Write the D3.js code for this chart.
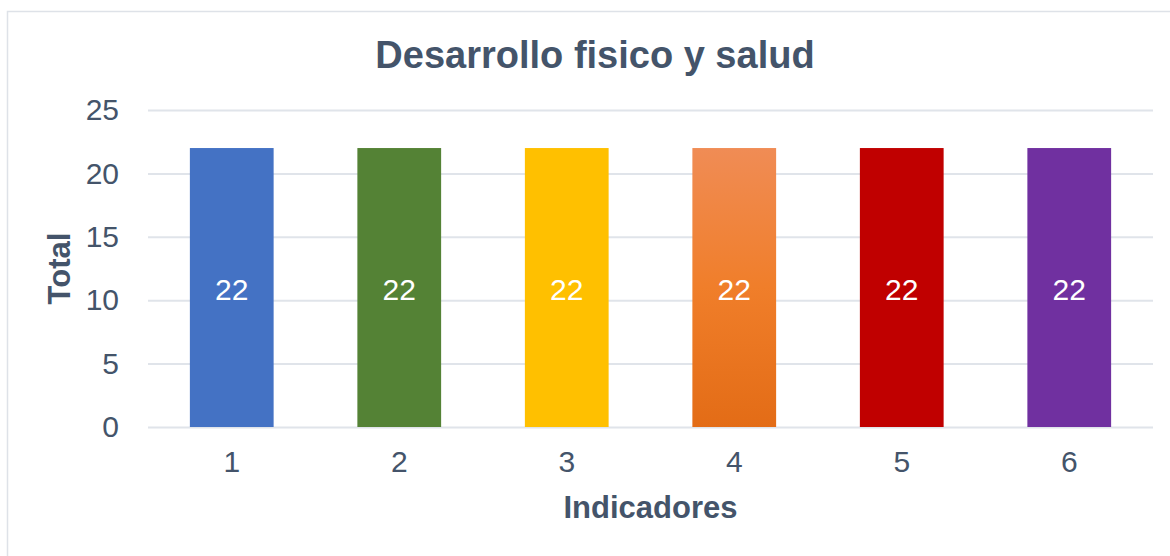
<!DOCTYPE html>
<html>
<head>
<meta charset="utf-8">
<script src="https://cdn.jsdelivr.net/npm/d3@7"></script>
<style>
  body { margin: 0; background: #fff; }
  text { font-family: "Liberation Sans", Arial, sans-serif; }
</style>
</head>
<body>
<div id="chart"></div>
<script>
var indicadores = ["1", "2", "3", "4", "5", "6"];
var totales = [22, 22, 22, 22, 22, 22];
var colores = ["#4472C4", "#548235", "#FFC000", "url(#naranja)", "#C00000", "#7030A0"];
var yTicks = [0, 5, 10, 15, 20, 25];

var width = 1170, height = 556;
var margin = {top: 110, bottom: 129, left: 148, right: 17};
var textColor = "#44546A";

var svg = d3.select("#chart").append("svg")
    .attr("width", width)
    .attr("height", height);

// gradiente de la barra 4
var grad = svg.append("defs").append("linearGradient")
    .attr("id", "naranja")
    .attr("x1", 0).attr("y1", 0).attr("x2", 0).attr("y2", 1);
grad.append("stop").attr("offset", "0%").attr("stop-color", "#F08C55");
grad.append("stop").attr("offset", "50%").attr("stop-color", "#F07E2A");
grad.append("stop").attr("offset", "100%").attr("stop-color", "#E36C16");

// borde del grafico
svg.append("rect")
    .attr("x", 7.5).attr("y", 11.5)
    .attr("width", 1200).attr("height", 600)
    .attr("fill", "#fff")
    .attr("stroke", "#DEE2E8")
    .attr("stroke-width", 1.5);

var x = d3.scaleBand()
    .domain(indicadores)
    .range([margin.left, width - margin.right])
    .paddingInner(0.5)
    .paddingOuter(0.25);

var y = d3.scaleLinear()
    .domain([0, 25])
    .range([height - margin.bottom, margin.top]);

// grid + eje y
var yAxis = d3.axisLeft(y).tickValues(yTicks)
    .tickSize(-(width - margin.left - margin.right))
    .tickPadding(29);
var gy = svg.append("g")
    .attr("transform", "translate(" + margin.left + ",0)")
    .call(yAxis);
gy.select(".domain").remove();
gy.selectAll("line").attr("stroke", "#E0E4EA").attr("stroke-width", 2);
gy.selectAll("text")
    .attr("fill", textColor)
    .style("font-size", "30px");

// barras
svg.append("g").selectAll("rect")
    .data(totales)
    .enter().append("rect")
    .attr("x", function(d, i) { return x(indicadores[i]); })
    .attr("y", function(d) { return y(d); })
    .attr("width", x.bandwidth())
    .attr("height", function(d) { return y(0) - y(d); })
    .attr("fill", function(d, i) { return colores[i]; });

// etiquetas de datos
svg.append("g").selectAll("text")
    .data(totales)
    .enter().append("text")
    .attr("x", function(d, i) { return x(indicadores[i]) + x.bandwidth() / 2; })
    .attr("y", function(d) { return y(d / 2) + 2; })
    .attr("text-anchor", "middle")
    .attr("dominant-baseline", "central")
    .attr("fill", "#fff")
    .style("font-size", "30px")
    .text(function(d) { return d; });

// eje x
var xAxis = d3.axisBottom(x).tickSize(0).tickPadding(24);
var gx = svg.append("g")
    .attr("transform", "translate(0," + y(0) + ")")
    .call(xAxis);
gx.select(".domain").remove();
gx.selectAll("text")
    .attr("fill", textColor)
    .style("font-size", "30px");

// titulo
svg.append("text")
    .attr("x", 595)
    .attr("y", 68)
    .attr("text-anchor", "middle")
    .attr("fill", textColor)
    .style("font-size", "38px")
    .style("font-weight", "bold")
    .text("Desarrollo fisico y salud");

svg.append("text")
    .attr("x", (margin.left + width - margin.right) / 2)
    .attr("y", 518)
    .attr("text-anchor", "middle")
    .attr("fill", textColor)
    .style("font-size", "31px")
    .style("font-weight", "bold")
    .text("Indicadores");

svg.append("text")
    .attr("transform", "rotate(-90)")
    .attr("x", -(y(0) + y(25)) / 2)
    .attr("y", 70)
    .attr("text-anchor", "middle")
    .attr("fill", textColor)
    .style("font-size", "31px")
    .style("font-weight", "bold")
    .text("Total");
</script>
</body>
</html>
